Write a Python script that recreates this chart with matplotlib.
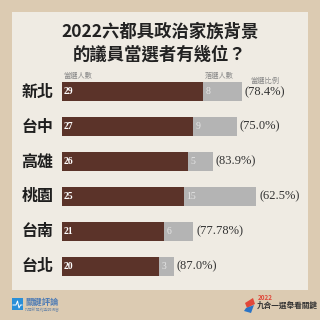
import matplotlib
matplotlib.use('Agg')
import matplotlib.pyplot as plt
from matplotlib.patches import Rectangle, Polygon
from matplotlib.lines import Line2D

# Data
cities = ['新北', '台中', '高雄', '桃園', '台南', '台北']
elected = [29, 27, 26, 25, 21, 20]
lost = [8, 9, 5, 15, 6, 3]
ratio_labels = ['(78.4%)', '(75.0%)', '(83.9%)', '(62.5%)', '(77.78%)', '(87.0%)']

title_lines = ['2022六都具政治家族背景', '的議員當選者有幾位？']

CJK = ['Noto Sans CJK TC', 'DejaVu Sans']
SERIF = ['Liberation Serif', 'DejaVu Serif']
DARK = '#5b3329'
GRAY = '#b4b4b4'
OUTER = '#dccbb2'
PANEL = '#efebe3'

fig = plt.figure(figsize=(3.2, 3.2), dpi=100)
fig.patch.set_facecolor(OUTER)
fig.add_artist(Rectangle((12 / 320, 30 / 320), 296 / 320, 278 / 320,
                         transform=fig.transFigure, facecolor=PANEL,
                         edgecolor='none', zorder=0))

# title
fig.text(0.5, 1 - 32 / 320, title_lines[0], ha='center', va='center',
         fontsize=12.5, fontweight='bold', family=CJK, color='#222222')
fig.text(0.5, 1 - 55 / 320, title_lines[1], ha='center', va='center',
         fontsize=12.5, fontweight='bold', family=CJK, color='#222222')

ax = fig.add_axes([62 / 320, 36.5 / 320, 243 / 320, 209 / 320])
ax.set_facecolor('none')
ax.set_xlim(0, 50)
ax.set_ylim(len(cities) - 0.5, -0.5)
ax.axis('off')

ys = list(range(len(cities)))
ax.barh(ys, elected, height=0.55, color=DARK)
ax.barh(ys, lost, left=elected, height=0.55, color=GRAY)

for y, city, e, l, r in zip(ys, cities, elected, lost, ratio_labels):
    ax.text(-5.1, y, city, ha='center', va='center', fontsize=11.5,
            fontweight='bold', family=CJK, color='#1e1e1e', clip_on=False)
    ax.text(0.4, y, str(e), ha='left', va='center', fontsize=7,
            fontweight='bold', family=SERIF, color='white')
    ax.text(e + 0.5, y, str(l), ha='left', va='center', fontsize=7,
            family=SERIF, color='#e6e6e6')
    ax.text(e + l + 0.6, y, r, ha='left', va='center', fontsize=9,
            family=SERIF, color='#333333')

# column headers
fig.text(63 / 320, 1 - 75.5 / 320, '當選人數', ha='left', va='center',
         fontsize=5.2, family=CJK, color='#888888')
fig.text(205 / 320, 1 - 75.5 / 320, '落選人數', ha='left', va='center',
         fontsize=5.2, family=CJK, color='#888888')
fig.text(250 / 320, 1 - 80.5 / 320, '當選比例', ha='left', va='center',
         fontsize=5.2, family=CJK, color='#888888')

# footer: left logo
fig.add_artist(Rectangle((12 / 320, 10 / 320), 11 / 320, 12 / 320,
                         transform=fig.transFigure, facecolor='#2a8fd8',
                         edgecolor='none'))
fig.add_artist(Line2D(
    [13 / 320, 16 / 320, 17.5 / 320, 19 / 320, 20.5 / 320, 22 / 320],
    [15 / 320, 15 / 320, 19 / 320, 12 / 320, 15 / 320, 15 / 320],
    transform=fig.transFigure, color='white', lw=0.7))
fig.text(25 / 320, 1 - 302 / 320, '關鍵評論', ha='left', va='center',
         fontsize=6, fontweight='bold', family=CJK, color='#4d7bb5')
fig.text(25 / 320, 1 - 309.5 / 320, '打開新聞的透明視窗', ha='left', va='center',
         fontsize=2.8, family=CJK, color='#7a8fa8')

# footer: right logo
fig.add_artist(Polygon([(245 / 320, 17 / 320), (253 / 320, 22 / 320),
                        (255 / 320, 16 / 320), (247 / 320, 12 / 320)],
                       closed=True, transform=fig.transFigure,
                       facecolor='#e0483a', edgecolor='none'))
fig.add_artist(Polygon([(246 / 320, 12 / 320), (254 / 320, 15 / 320),
                        (251 / 320, 7 / 320), (244 / 320, 9 / 320)],
                       closed=True, transform=fig.transFigure,
                       facecolor='#2a74c6', edgecolor='none'))
fig.text(258 / 320, 1 - 297 / 320, '2022', ha='left', va='center',
         fontsize=4.5, fontweight='bold', family=CJK, color='#e0483a')
fig.text(257 / 320, 1 - 305 / 320, '九合一選舉看關鍵', ha='left', va='center',
         fontsize=5.5, fontweight='bold', family=CJK, color='#333333')

fig.savefig('out.png', dpi=100, facecolor=fig.get_facecolor())
